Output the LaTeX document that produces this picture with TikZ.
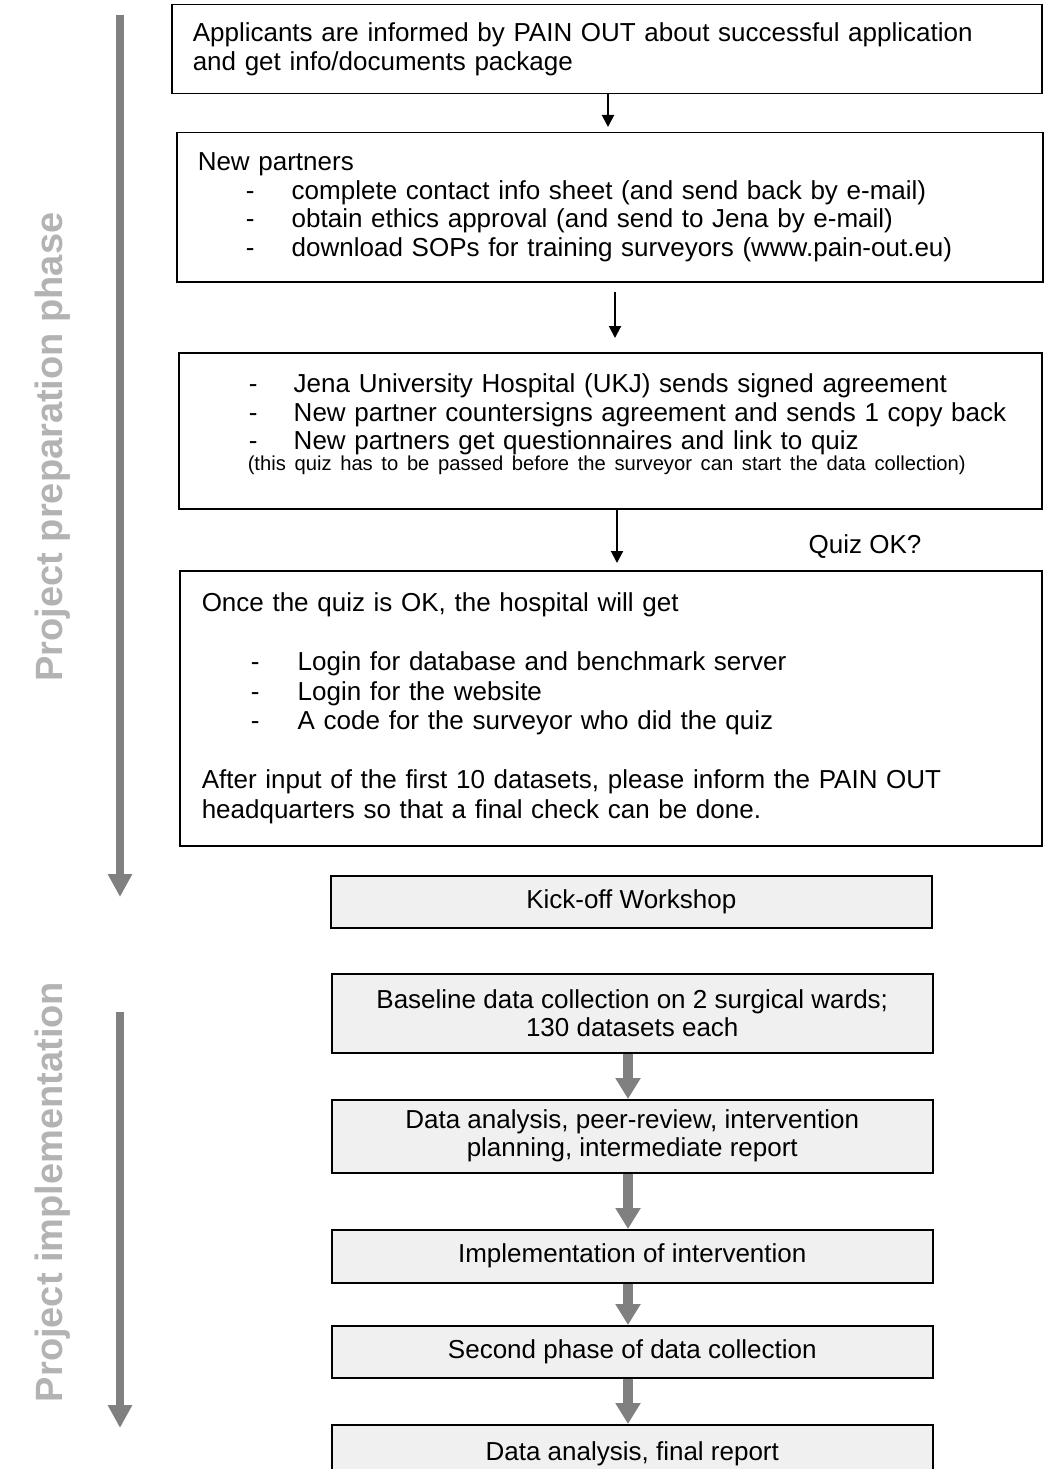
\documentclass[tikz,border=0pt]{standalone}
\usepackage{fontspec}
\setmainfont{Liberation Sans}
\usetikzlibrary{arrows.meta}
\definecolor{labelgrey}{HTML}{B3B3B3}
\definecolor{arrowgrey}{HTML}{808080}
\definecolor{boxgrey}{HTML}{F0F0F0}
\newcommand{\itemdash}[2]{\hspace*{#1}\makebox[#2][l]{-}}

\begin{document}
\begin{tikzpicture}[x=1pt,y=-1pt,
    textbox/.style={draw,line width=1.5pt,anchor=north west,align=left,inner xsep=10pt,inner ysep=0pt,font=\fontsize{26}{28.5}\selectfont},
    greybox/.style={draw,line width=1.5pt,fill=boxgrey,anchor=north west,align=center,inner sep=0pt,minimum width=601pt,font=\fontsize{26}{28}\selectfont},
    blackarrow/.style={-{Triangle[length=12pt,width=12pt]},line width=2pt},
    greyarrow/.style={draw=arrowgrey,line width=10pt,-{Triangle[length=21pt,width=24pt]}},
    phasearrow/.style={draw=arrowgrey,line width=8pt,-{Triangle[length=23pt,width=23pt]}},
    phase/.style={rotate=90,anchor=base,text=labelgrey,font=\fontsize{38}{40}\selectfont\bfseries}]
\useasboundingbox (0,0) rectangle (1055,1469);
\clip (0,0) rectangle (1055,1469);

\node [textbox,text width=850pt,minimum height=89pt] (inform) at (171,4) {\hspace*{11pt}Applicants are informed by PAIN OUT about successful application\\
  \hspace*{11pt}and get info/documents package};
\node [textbox,text width=846pt,minimum height=149pt] (partners) at (176,132) {\hspace*{11pt}New partners\\
  \itemdash{59pt}{46pt}complete contact info sheet (and send back by e-mail)\\
  \itemdash{59pt}{46pt}obtain ethics approval (and send to Jena by e-mail)\\
  \itemdash{59pt}{46pt}download SOPs for training surveyors (www.pain-out.eu)};
\node [textbox,text width=843pt,minimum height=156pt] (agreement) at (178,352) {\itemdash{60pt}{45pt}Jena University Hospital (UKJ) sends signed agreement\\
  \itemdash{60pt}{45pt}New partner countersigns agreement and sends 1 copy back\\
  \itemdash{60pt}{45pt}New partners get questionnaires and link to quiz\\[-8pt]
  \hspace*{59pt}\mbox{\fontsize{20.2}{23}\selectfont (this quiz has to be passed before the surveyor can start the data collection)}\rule[-17pt]{0pt}{0pt}};
\node [textbox,text width=842pt,minimum height=275pt,font=\fontsize{26}{29.5}\selectfont] (access) at (179,570) {\hspace*{12pt}Once the quiz is OK, the hospital will get\\[29.5pt]
  \itemdash{61pt}{47pt}Login for database and benchmark server\\
  \itemdash{61pt}{47pt}Login for the website\\
  \itemdash{61pt}{47pt}A code for the surveyor who did the quiz\\[29.5pt]
  \hspace*{12pt}After input of the first 10 datasets, please inform the PAIN OUT\\
  \hspace*{12pt}headquarters so that a final check can be done.};
\node [font=\fontsize{26}{28}\selectfont] (quiz) at (865,547) {Quiz OK?};

\draw [blackarrow,shorten >=5pt] ([xshift=437pt]inform.south west) to ([xshift=432pt]partners.north west);
\draw [blackarrow,shorten <=9pt,shorten >=14pt] ([xshift=439pt]partners.south west) to ([xshift=437pt]agreement.north west);
\draw [blackarrow,shorten >=7pt] ([xshift=439pt]agreement.south west) to ([xshift=438pt]access.north west);

\node [greybox,minimum height=52pt] (kickoff) at (330,875) {Kick-off Workshop};
\node [greybox,minimum height=79pt] (baseline) at (331,973) {Baseline data collection on 2 surgical wards;\\130 datasets each};
\node [greybox,minimum height=73pt] (analysis) at (331,1099) {Data analysis, peer-review, intervention\\planning, intermediate report};
\node [greybox,minimum height=53pt] (implement) at (331,1229) {Implementation of intervention};
\node [greybox,minimum height=52pt] (secondphase) at (331,1325) {Second phase of data collection};
\node [greybox,minimum height=58pt] (finalreport) at (331,1424) {Data analysis, final report};

\foreach \from/\to in {baseline/analysis,analysis/implement,implement/secondphase,secondphase/finalreport}
  \draw [greyarrow] ([xshift=297pt]\from.south west) to ([xshift=297pt]\to.north west);

\coordinate (prepstart) at (120,15);
\coordinate (prepend) at (120,897);
\draw [phasearrow] (prepstart) to (prepend);
\node [phase] (preplabel) at (62,447) {Project preparation phase};
\coordinate (implstart) at (120,1012);
\coordinate (implend) at (120,1428);
\draw [phasearrow] (implstart) to (implend);
\node [phase] (impllabel) at (62,1192) {Project implementation};
\end{tikzpicture}
\end{document}
